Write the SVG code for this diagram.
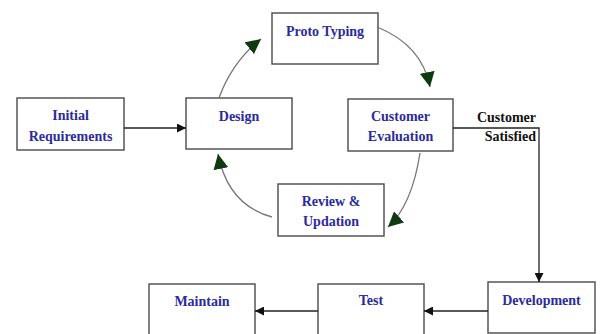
<svg xmlns="http://www.w3.org/2000/svg" width="600" height="334" viewBox="0 0 600 334">
<defs>
<style>
.box{fill:#fff;stroke:#555;stroke-width:1.5}
.t{font-family:"Liberation Serif",serif;font-weight:bold;font-size:14px;fill:#2b2b9c;text-anchor:middle}
.lbl{font-family:"Liberation Serif",serif;font-weight:bold;font-size:14px;fill:#111;text-anchor:end}
.line{fill:none;stroke:#222;stroke-width:1.3}
.curve{fill:none;stroke:#777;stroke-width:1.3}
</style>
<marker id="blk" viewBox="0 0 10 10" refX="10" refY="5" markerWidth="9" markerHeight="9" markerUnits="userSpaceOnUse" orient="auto">
<path d="M0,0 L10,5 L0,10 z" fill="#111"/>
</marker>
<marker id="grn" viewBox="0 0 10 10" refX="10" refY="5" markerWidth="15" markerHeight="15" markerUnits="userSpaceOnUse" orient="auto">
<path d="M0,0 L10,5 L0,10 z" fill="#123a12"/>
</marker>
</defs>
<rect width="600" height="334" fill="#fff"/>
<g id="n-initial"><rect class="box" x="17" y="98" width="107" height="52"/><text class="t" x="70.5" y="120">Initial</text><text class="t" x="70.5" y="141">Requirements</text></g>
<g id="n-design"><rect class="box" x="186" y="98" width="106" height="51"/><text class="t" x="239" y="121">Design</text></g>
<g id="n-proto"><rect class="box" x="272" y="13" width="106" height="51"/><text class="t" x="325" y="36">Proto Typing</text></g>
<g id="n-eval"><rect class="box" x="348" y="99" width="105" height="52"/><text class="t" x="400.5" y="121">Customer</text><text class="t" x="400.5" y="141">Evaluation</text></g>
<g id="n-review"><rect class="box" x="278" y="184" width="106" height="52"/><text class="t" x="331" y="206">Review &amp;</text><text class="t" x="331" y="226">Updation</text></g>
<g id="n-dev"><rect class="box" x="488" y="282" width="107" height="51"/><text class="t" x="541.5" y="305">Development</text></g>
<g id="n-test"><rect class="box" x="318" y="284" width="106" height="51"/><text class="t" x="371" y="305">Test</text></g>
<g id="n-maintain"><rect class="box" x="149" y="284" width="106" height="51"/><text class="t" x="202" y="306">Maintain</text></g>
<g id="connectors">
<line class="line" x1="124" y1="128" x2="186" y2="128" marker-end="url(#blk)"/>
<polyline class="line" points="453,128 539,128 539,282" marker-end="url(#blk)"/>
<line class="line" x1="488" y1="311" x2="424" y2="311" marker-end="url(#blk)"/>
<line class="line" x1="318" y1="311" x2="255" y2="311" marker-end="url(#blk)"/>
<path class="curve" d="M219,98 Q232,62 261,39" marker-end="url(#grn)"/>
<path class="curve" d="M377,27 Q422,45 430,87" marker-end="url(#grn)"/>
<path class="curve" d="M420,153 Q412,205 388,227" marker-end="url(#grn)"/>
<path class="curve" d="M272,217 Q228,205 218,154" marker-end="url(#grn)"/>
<text class="lbl" x="536" y="122">Customer</text>
<text class="lbl" x="536" y="141">Satisfied</text>
</g>
</svg>
